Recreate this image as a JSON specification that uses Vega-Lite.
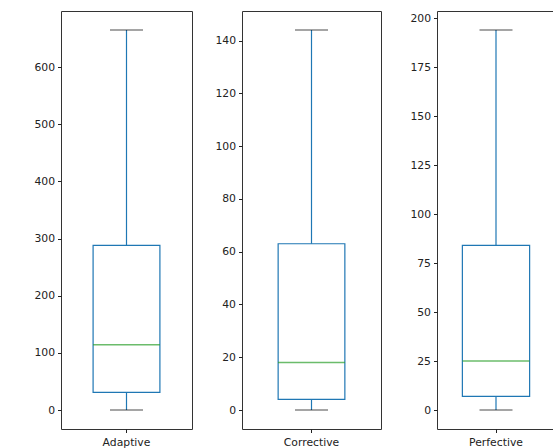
{
  "$schema": "https://vega.github.io/schema/vega-lite/v6.json",
  "padding": {"left": 0, "top": 10, "right": 0, "bottom": 0},
  "background": "white",
  "data": {"values": [
    {"cat": "Adaptive", "min": 0, "q1": 31, "median": 114, "q3": 288, "max": 665},
    {"cat": "Corrective", "min": 0, "q1": 4, "median": 18, "q3": 63, "max": 144},
    {"cat": "Perfective", "min": 0, "q1": 7, "median": 25, "q3": 84, "max": 194}
  ]},
  "spacing": 18,
  "config": {
    "view": {"stroke": "#333", "strokeWidth": 1},
    "axis": {"labelFont": "DejaVu Sans", "labelFontSize": 10.8, "labelColor": "#222", "tickColor": "#222", "tickSize": 3.5, "labelPadding": 3, "grid": false, "domain": false, "title": null},
    "axisX": {"labelPadding": 3.5},
    "tick": {"thickness": 1.2}
  },
  "hconcat": [
    {
      "width": 131, "height": 418,
      "transform": [{"filter": "datum.cat === 'Adaptive'"}],
      "encoding": {"x": {"field": "cat", "type": "nominal", "scale": {"paddingInner": 0, "paddingOuter": 0}, "axis": {"labelAngle": 0}}},
      "layer": [
        {"mark": {"type": "rule", "color": "#1f77b4", "strokeWidth": 1.2}, "encoding": {"y": {"field": "min", "type": "quantitative", "scale": {"domain": [-33.25, 698.25], "nice": false, "zero": false}, "axis": {"values": [0, 100, 200, 300, 400, 500, 600], "minExtent": 60, "maxExtent": 60}}, "y2": {"field": "q1"}}},
        {"mark": {"type": "rule", "color": "#1f77b4", "strokeWidth": 1.2}, "encoding": {"y": {"field": "q3", "type": "quantitative"}, "y2": {"field": "max"}}},
        {"mark": {"type": "bar", "filled": false, "color": "#1f77b4", "strokeWidth": 1.2, "width": {"band": 0.51}}, "encoding": {"y": {"field": "q1", "type": "quantitative"}, "y2": {"field": "q3"}}},
        {"mark": {"type": "tick", "color": "#2ca02c", "size": 67, "thickness": 1.5}, "encoding": {"y": {"field": "median", "type": "quantitative"}}},
        {"mark": {"type": "tick", "color": "#000", "size": 33}, "encoding": {"y": {"field": "min", "type": "quantitative"}}},
        {"mark": {"type": "tick", "color": "#000", "size": 33}, "encoding": {"y": {"field": "max", "type": "quantitative"}}}
      ]
    },
    {
      "width": 139, "height": 418,
      "transform": [{"filter": "datum.cat === 'Corrective'"}],
      "encoding": {"x": {"field": "cat", "type": "nominal", "scale": {"paddingInner": 0, "paddingOuter": 0}, "axis": {"labelAngle": 0}}},
      "layer": [
        {"mark": {"type": "rule", "color": "#1f77b4", "strokeWidth": 1.2}, "encoding": {"y": {"field": "min", "type": "quantitative", "scale": {"domain": [-7.2, 151.2], "nice": false, "zero": false}, "axis": {"values": [0, 20, 40, 60, 80, 100, 120, 140], "minExtent": 30, "maxExtent": 30}}, "y2": {"field": "q1"}}},
        {"mark": {"type": "rule", "color": "#1f77b4", "strokeWidth": 1.2}, "encoding": {"y": {"field": "q3", "type": "quantitative"}, "y2": {"field": "max"}}},
        {"mark": {"type": "bar", "filled": false, "color": "#1f77b4", "strokeWidth": 1.2, "width": {"band": 0.48}}, "encoding": {"y": {"field": "q1", "type": "quantitative"}, "y2": {"field": "q3"}}},
        {"mark": {"type": "tick", "color": "#2ca02c", "size": 67, "thickness": 1.5}, "encoding": {"y": {"field": "median", "type": "quantitative"}}},
        {"mark": {"type": "tick", "color": "#000", "size": 33}, "encoding": {"y": {"field": "min", "type": "quantitative"}}},
        {"mark": {"type": "tick", "color": "#000", "size": 33}, "encoding": {"y": {"field": "max", "type": "quantitative"}}}
      ]
    },
    {
      "width": 118, "height": 418,
      "transform": [{"filter": "datum.cat === 'Perfective'"}],
      "encoding": {"x": {"field": "cat", "type": "nominal", "scale": {"paddingInner": 0, "paddingOuter": 0}, "axis": {"labelAngle": 0}}},
      "layer": [
        {"mark": {"type": "rule", "color": "#1f77b4", "strokeWidth": 1.2}, "encoding": {"y": {"field": "min", "type": "quantitative", "scale": {"domain": [-9.7, 203.7], "nice": false, "zero": false}, "axis": {"values": [0, 25, 50, 75, 100, 125, 150, 175, 200], "minExtent": 36, "maxExtent": 36}}, "y2": {"field": "q1"}}},
        {"mark": {"type": "rule", "color": "#1f77b4", "strokeWidth": 1.2}, "encoding": {"y": {"field": "q3", "type": "quantitative"}, "y2": {"field": "max"}}},
        {"mark": {"type": "bar", "filled": false, "color": "#1f77b4", "strokeWidth": 1.2, "width": {"band": 0.57}}, "encoding": {"y": {"field": "q1", "type": "quantitative"}, "y2": {"field": "q3"}}},
        {"mark": {"type": "tick", "color": "#2ca02c", "size": 67, "thickness": 1.5}, "encoding": {"y": {"field": "median", "type": "quantitative"}}},
        {"mark": {"type": "tick", "color": "#000", "size": 33}, "encoding": {"y": {"field": "min", "type": "quantitative"}}},
        {"mark": {"type": "tick", "color": "#000", "size": 33}, "encoding": {"y": {"field": "max", "type": "quantitative"}}}
      ]
    }
  ]
}
